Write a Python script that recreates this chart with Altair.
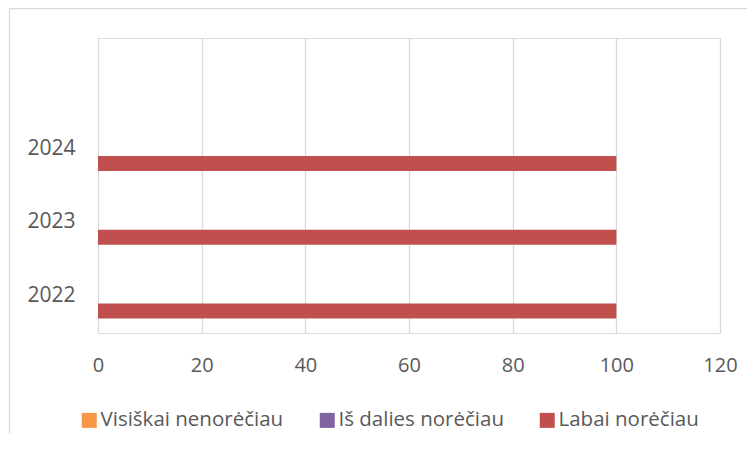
import altair as alt
import pandas as pd

years = ["2022", "2023", "2024"]
series = ["Visiškai nenorėčiau", "Iš dalies norėčiau", "Labai norėčiau"]
visiskai = [0, 0, 0]
is_dalies = [0, 0, 0]
labai = [100, 100, 100]
colors = ["#F79646", "#8064A2", "#C0504D"]
y_domain = [" ", "2024", "2023", "2022"]
x_ticks = [0, 20, 40, 60, 80, 100, 120]

rows = []
for name, vals in zip(series, [visiskai, is_dalies, labai]):
    for yr, v in zip(years, vals):
        rows.append({"Metai": yr, "Serija": name, "Reikšmė": v})
df = pd.DataFrame(rows)

FONT = "Open Sans"
GRAY = "#595959"

bars = alt.Chart(df).mark_bar(size=15).encode(
    x=alt.X("Reikšmė:Q",
            scale=alt.Scale(domain=[0, 120], nice=False),
            axis=alt.Axis(values=x_ticks, title=None, domain=False, ticks=False,
                          grid=True, gridColor="#d9d9d9", gridWidth=1.3,
                          labelFlush=False,
                          labelFont=FONT, labelFontSize=20, labelColor=GRAY,
                          labelPadding=22)),
    y=alt.Y("Metai:N",
            scale=alt.Scale(domain=y_domain, paddingInner=0.39, paddingOuter=0.195),
            axis=alt.Axis(title=None, domain=False, ticks=False, grid=False,
                          labelFont=FONT, labelFontSize=21, labelColor=GRAY,
                          labelPadding=23)),
    yOffset=alt.YOffset("Serija:N",
                        scale=alt.Scale(domain=series, paddingInner=0, paddingOuter=0)),
    color=alt.Color("Serija:N",
                    scale=alt.Scale(domain=series, range=colors),
                    legend=alt.Legend(title=None, orient="none", direction="horizontal",
                                      legendX=-19, legendY=372, padding=0,
                                      symbolType="square", symbolSize=225,
                                      symbolStrokeWidth=0, labelOffset=1,
                                      columnPadding=33,
                                      labelFont=FONT, labelFontSize=20.5, labelColor=GRAY,
                                      labelLimit=400)),
)

frame = alt.Chart(pd.DataFrame({"a": [0]})).mark_rect(
    fill=None, stroke="#d9d9d9", strokeWidth=1.3
).encode(
    x=alt.value(-88.5), x2=alt.value(800),
    y=alt.value(-29.5), y2=alt.value(600),
)

chart = alt.layer(frame, bars).properties(
    width=622, height=295,
    autosize=alt.AutoSizeParams(type="none"),
    padding={"left": 90, "top": 30, "right": 27, "bottom": 100},
).configure_view(stroke=None).configure(background="white")

chart.save("out.html", embed_options={"renderer": "svg", "actions": False})
